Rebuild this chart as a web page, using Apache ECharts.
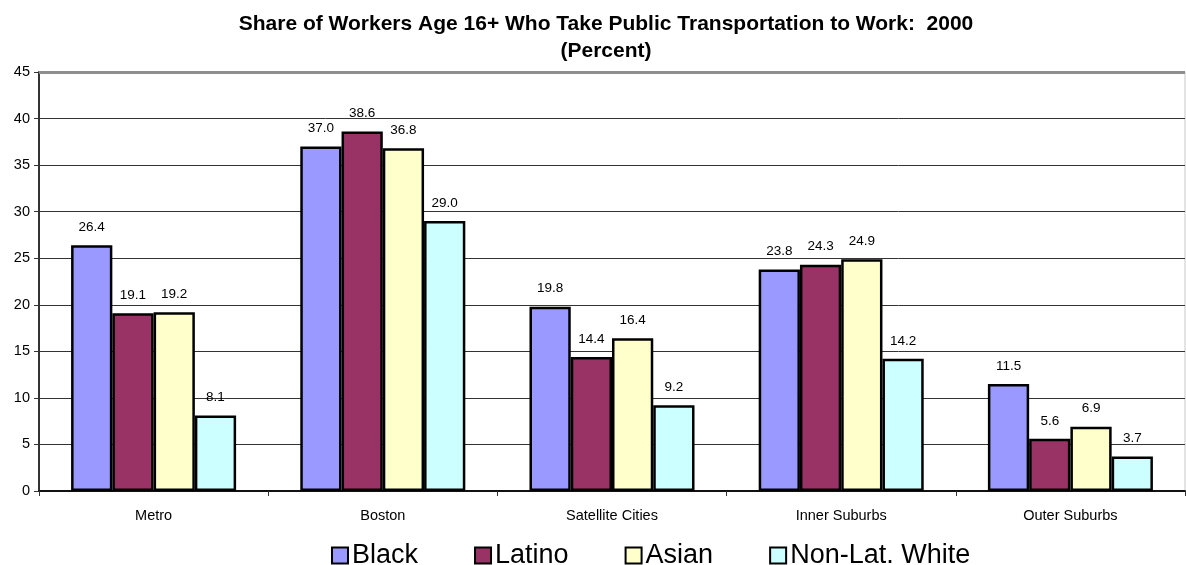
<!DOCTYPE html>
<html><head><meta charset="utf-8">
<script src="https://cdn.jsdelivr.net/npm/echarts@6/dist/echarts.min.js"></script>
<style>html,body{margin:0;padding:0;background:#fff}#c{width:1186px;height:565px}</style>
</head><body><div id="c"></div>
<script>
const categories = ['Metro', 'Boston', 'Satellite Cities', 'Inner Suburbs', 'Outer Suburbs'];
const black = [26.4, 37.0, 19.8, 23.8, 11.5];
const latino = [19.1, 38.6, 14.4, 24.3, 5.6];
const asian = [19.2, 36.8, 16.4, 24.9, 6.9];
const nonLatWhite = [8.1, 29.0, 9.2, 14.2, 3.7];
const seriesNames = ['Black', 'Latino', 'Asian', 'Non-Lat. White'];
const colors = ['#9999ff', '#993366', '#ffffcc', '#ccffff'];
const FONT = 'Liberation Sans, Arial, sans-serif';

const chart = echarts.init(document.getElementById('c'), null, {renderer: 'canvas'});
const data = [black, latino, asian, nonLatWhite];
chart.setOption({
  animation: false,
  title: {
    text: 'Share of Workers Age 16+ Who Take Public Transportation to Work:  2000\n(Percent)',
    left: 601, top: 6, textAlign: 'center',
    textStyle: {fontFamily: FONT, fontSize: 21, fontWeight: 'bold', color: '#000', lineHeight: 27}
  },
  legend: {
    top: 537, left: 326,
    itemWidth: 16, itemHeight: 16, itemGap: 56,
    textStyle: {fontFamily: FONT, fontSize: 27, color: '#000', padding: [0, 0, 0, -1]},
    data: seriesNames.map(n => ({name: n, icon: 'rect'})),
    itemStyle: {borderColor: '#000', borderWidth: 2}
  },
  grid: {left: 39, right: 1, top: 72, bottom: 74, show: true, borderColor: '#c8c8c8', borderWidth: 1, backgroundColor: 'transparent'},
  xAxis: {
    type: 'category', data: categories,
    axisLine: {lineStyle: {color: '#111', width: 2}},
    axisTick: {show: true, length: 5, lineStyle: {color: '#333'}},
    axisLabel: {fontFamily: FONT, fontSize: 14.5, color: '#000', margin: 17}
  },
  yAxis: {
    type: 'value', min: 0, max: 45, interval: 5,
    axisLine: {show: true, lineStyle: {color: '#333', width: 2}},
    axisTick: {show: true, length: 5, lineStyle: {color: '#333'}},
    axisLabel: {fontFamily: FONT, fontSize: 14.5, color: '#000', margin: 9},
    splitLine: {lineStyle: {color: '#333', width: 1}}
  },
  series: seriesNames.map((n, i) => ({
    name: n, type: 'bar', data: data[i],
    barGap: '0%', barCategoryGap: '28%',
    itemStyle: {color: colors[i], borderColor: '#000', borderWidth: 2.5},
    label: {show: true, position: 'top', distance: 11, fontFamily: FONT, fontSize: 13.5, color: '#000',
      formatter: p => p.value.toFixed(1)},
    markLine: i === 0 ? {
      silent: true, symbol: 'none', label: {show: false},
      lineStyle: {color: '#8f8f8f', width: 3, type: 'solid'},
      data: [{yAxis: 45}]
    } : undefined
  }))
});
</script></body></html>
